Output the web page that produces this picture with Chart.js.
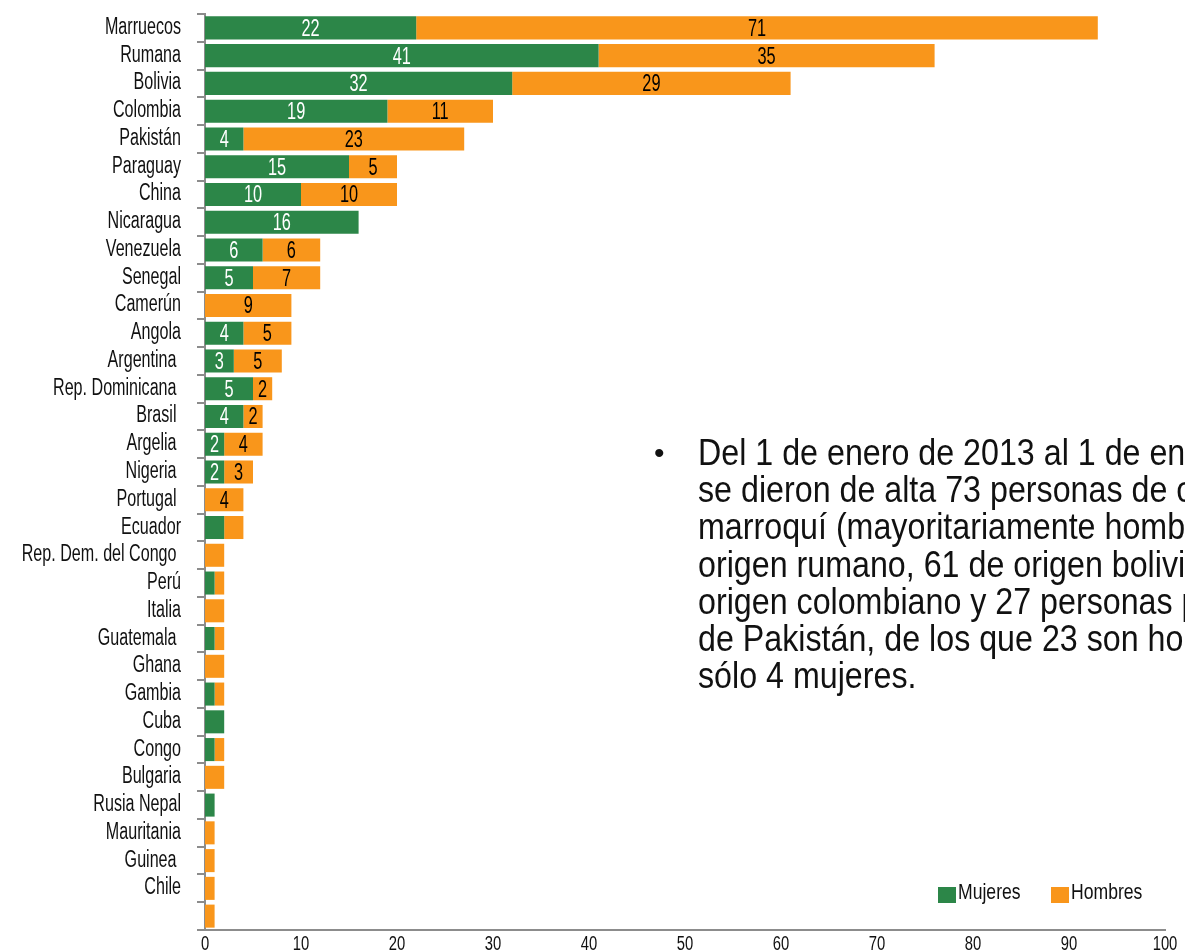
<!DOCTYPE html>
<html>
<head>
<meta charset="utf-8">
<script src="https://cdn.jsdelivr.net/npm/chart.js@4.4.1/dist/chart.umd.min.js"></script>
<style>
    html, body { margin: 0; padding: 0; background: #fff; overflow: hidden; }
    #wrap { position: relative; width: 1185px; height: 951px; overflow: hidden; }
    #chart { position: absolute; left: 0; top: 0; }
    .note {
        position: absolute; left: 698px; top: 434px;
        font-family: 'Liberation Sans', Arial, sans-serif; font-size: 36px; line-height: 37.2px;
        color: #111; white-space: nowrap;
        transform: scaleX(0.895); transform-origin: left top;
    }
    .bullet {
        position: absolute; left: 654px; top: 434px;
        font-family: 'Liberation Sans', Arial, sans-serif; font-size: 30px; line-height: 37.2px; color: #111;
    }
</style>
</head>
<body>
<div id="wrap">
    <canvas id="chart" width="1185" height="951"></canvas>
    <div class="bullet">•</div>
    <div class="note">
        Del 1 de enero de 2013 al 1 de enero de 2014<br>
        se dieron de alta 73 personas de origen<br>
        marroquí (mayoritariamente hombres), 76 de<br>
        origen rumano, 61 de origen boliviano, 30 de<br>
        origen colombiano y 27 personas procedentes<br>
        de Pakistán, de los que 23 son hombres y<br>
        sólo 4 mujeres.
    </div>
</div>
<script>
const countries = ['Marruecos', 'Rumana', 'Bolivia', 'Colombia', 'Pakistán', 'Paraguay', 'China', 'Nicaragua',
    'Venezuela', 'Senegal', 'Camerún', 'Angola', 'Argentina ', 'Rep. Dominicana ', 'Brasil ', 'Argelia ', 'Nigeria ',
    'Portugal ', 'Ecuador', 'Rep. Dem. del Congo ', 'Perú', 'Italia', 'Guatemala ', 'Ghana', 'Gambia', 'Cuba', 'Congo',
    'Bulgaria', 'Rusia Nepal', 'Mauritania', 'Guinea ', 'Chile', ''];
const mujeres = [22, 41, 32, 19, 4, 15, 10, 16, 6, 5, 0, 4, 3, 5, 4, 2, 2, 0, 2, 0, 1, 0, 1, 0, 1, 2, 1, 0, 1, 0, 0, 0, 0];
const hombres = [71, 35, 29, 11, 23, 5, 10, 0, 6, 7, 9, 5, 5, 2, 2, 4, 3, 4, 2, 2, 1, 2, 1, 2, 1, 0, 1, 2, 0, 1, 1, 1, 1];
const xTicks = [0, 10, 20, 30, 40, 50, 60, 70, 80, 90, 100];
const labelledRows = 18; // only the first rows carry value labels

const colors = {
    mujeres: '#2C8648',
    hombres: '#F9961B',
    axis: '#8C8C8C',
    text: '#111111',
};
const fontFamily = "'Liberation Sans', Arial, sans-serif";

// the original uses a tall condensed face, so text is drawn squeezed horizontally
function drawText(ctx, text, x, y, size, sx, align, color) {
    ctx.save();
    ctx.translate(x, y);
    ctx.scale(sx, 1);
    ctx.font = size + 'px ' + fontFamily;
    ctx.textAlign = align;
    ctx.textBaseline = 'alphabetic';
    ctx.fillStyle = color;
    ctx.fillText(text, 0, 0);
    ctx.restore();
}

const condensedText = {
    id: 'condensedText',
    afterDraw(chart) {
        const ctx = chart.ctx;
        const xs = chart.scales.x;
        const ys = chart.scales.y;

        // category labels
        chart.data.labels.forEach((lbl, i) => {
            drawText(ctx, lbl, 181, ys.getPixelForTick(i) + 6, 23, 0.70, 'right', colors.text);
        });

        // x tick labels
        xTicks.forEach(v => {
            drawText(ctx, String(v), xs.getPixelForValue(v), 950, 20, 0.74, 'center', colors.text);
        });

        // values inside the bars
        chart.data.datasets.forEach((ds, di) => {
            chart.getDatasetMeta(di).data.forEach((bar, i) => {
                const v = ds.data[i];
                if (!v || i >= labelledRows) return;
                drawText(ctx, String(v), (bar.x + bar.base) / 2, bar.y + 8, 24, 0.68, 'center',
                    di === 0 ? '#ffffff' : '#000000');
            });
        });

        // legend
        const legendX = [938, 1051];
        chart.data.datasets.forEach((ds, i) => {
            ctx.fillStyle = ds.backgroundColor;
            ctx.fillRect(legendX[i], 887, 18, 16);
            drawText(ctx, ds.label, legendX[i] + 20, 899, 22, 0.8, 'left', colors.text);
        });
    }
};

const ctx = document.getElementById('chart').getContext('2d');

const chart = new Chart(ctx, {
    type: 'bar',
    data: {
        labels: countries,
        datasets: [
            {
                label: 'Mujeres',
                data: mujeres,
                backgroundColor: colors.mujeres,
                barPercentage: 0.83,
                categoryPercentage: 1,
            },
            {
                label: 'Hombres',
                data: hombres,
                backgroundColor: colors.hombres,
                barPercentage: 0.83,
                categoryPercentage: 1,
            }
        ]
    },
    options: {
        indexAxis: 'y',
        responsive: false,
        animation: false,
        layout: { padding: { top: 14, right: 20, left: 0, bottom: 0 } },
        scales: {
            x: {
                stacked: true,
                min: 0,
                max: 100,
                afterBuildTicks: (scale) => { scale.ticks = xTicks.map(v => ({ value: v })); },
                afterFit: (scale) => {
                    scale.height = 21;
                    scale.paddingLeft = 0;
                    scale.paddingRight = 0;
                },
                grid: { display: false },
                border: { display: true, color: colors.axis, width: 2 },
                ticks: { display: false }
            },
            y: {
                stacked: true,
                afterFit: (scale) => {
                    scale.width = 205;
                    scale.paddingTop = 0;
                    scale.paddingBottom = 0;
                },
                grid: {
                    offset: true,
                    drawOnChartArea: false,
                    drawTicks: true,
                    tickLength: 8,
                    color: colors.axis,
                    lineWidth: 2,
                },
                border: { display: true, color: colors.axis, width: 2 },
                ticks: { display: false, autoSkip: false }
            }
        },
        plugins: {
            legend: { display: false },
            tooltip: { enabled: false }
        }
    },
    plugins: [condensedText]
});
</script>
</body>
</html>
